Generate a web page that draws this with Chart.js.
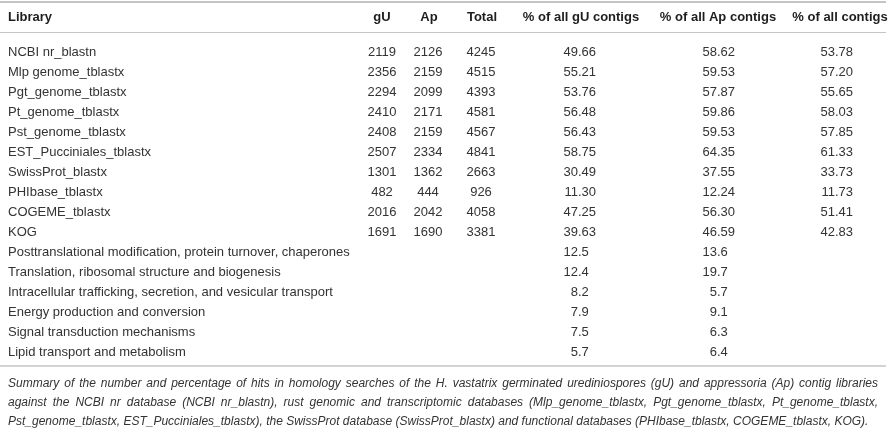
<!DOCTYPE html>
<html>
<head>
<meta charset="utf-8">
<script src="https://cdn.jsdelivr.net/npm/chart.js@4.4.0/dist/chart.umd.min.js"></script>
<style>
  html, body { margin: 0; padding: 0; background: #fff; }
  #wrap { width: 890px; height: 431px; }
</style>
</head>
<body>
<div id="wrap"><canvas id="tabla"></canvas></div>
<script>
// datos de la tabla
const headers = ['Library', 'gU', 'Ap', 'Total', '% of all gU contigs', '% of all Ap contigs', '% of all contigs'];
const libraries = ['NCBI nr_blastn', 'Mlp genome_tblastx', 'Pgt_genome_tblastx', 'Pt_genome_tblastx', 'Pst_genome_tblastx',
  'EST_Pucciniales_tblastx', 'SwissProt_blastx', 'PHIbase_tblastx', 'COGEME_tblastx', 'KOG'];
const gU = [2119, 2356, 2294, 2410, 2408, 2507, 1301, 482, 2016, 1691];
const ap = [2126, 2159, 2099, 2171, 2159, 2334, 1362, 444, 2042, 1690];
const total = [4245, 4515, 4393, 4581, 4567, 4841, 2663, 926, 4058, 3381];
const pctGU = [49.66, 55.21, 53.76, 56.48, 56.43, 58.75, 30.49, 11.30, 47.25, 39.63];
const pctAp = [58.62, 59.53, 57.87, 59.86, 59.53, 64.35, 37.55, 12.24, 56.30, 46.59];
const pctAll = [53.78, 57.20, 55.65, 58.03, 57.85, 61.33, 33.73, 11.73, 51.41, 42.83];
const kogClasses = ['Posttranslational modification, protein turnover, chaperones', 'Translation, ribosomal structure and biogenesis',
  'Intracellular trafficking, secretion, and vesicular transport', 'Energy production and conversion',
  'Signal transduction mechanisms', 'Lipid transport and metabolism'];
const kogGU = [12.5, 12.4, 8.2, 7.9, 7.5, 5.7];
const kogAp = [13.6, 19.7, 5.7, 9.1, 6.3, 6.4];
const caption = [
  'Summary of the number and percentage of hits in homology searches of the H. vastatrix germinated urediniospores (gU) and appressoria (Ap) contig libraries',
  'against the NCBI nr database (NCBI nr_blastn), rust genomic and transcriptomic databases (Mlp_genome_tblastx, Pgt_genome_tblastx, Pt_genome_tblastx,',
  'Pst_genome_tblastx, EST_Pucciniales_tblastx), the SwissProt database (SwissProt_blastx) and functional databases (PHIbase_tblastx, COGEME_tblastx, KOG).'
];

const rowLabels = libraries.concat(kogClasses);

// posiciones de columnas (en unidades del eje x = px)
const colX = [8, 382, 428, 481, 578, 717, 835];
const headX = [8, 382, 429, 482, 581, 718, 840];
const FONT = '"Liberation Sans", Arial, sans-serif';

function columna(textos, col, align) {
  return {
    data: textos.map((t, i) => ({ x: colX[col], y: i })),
    textos: textos,
    align: align,
    pointRadius: 0
  };
}

const tablaPlugin = {
  id: 'tabla',
  beforeDraw(chart) {
    const ctx = chart.ctx;
    ctx.save();
    ctx.fillStyle = '#fff';
    ctx.fillRect(0, 0, chart.width, chart.height);
    // lineas
    ctx.strokeStyle = '#c4c4c4';
    ctx.lineWidth = 2;
    ctx.beginPath(); ctx.moveTo(0, 2); ctx.lineTo(886, 2); ctx.stroke();
    ctx.lineWidth = 1;
    ctx.beginPath(); ctx.moveTo(0, 32.5); ctx.lineTo(886, 32.5); ctx.stroke();
    ctx.lineWidth = 1.5;
    ctx.beginPath(); ctx.moveTo(0, 366); ctx.lineTo(886, 366); ctx.stroke();
    // encabezado
    const xs = chart.scales.x;
    ctx.fillStyle = '#1e1e1e';
    ctx.font = 'bold 13px ' + FONT;
    ctx.textBaseline = 'middle';
    headers.forEach((h, i) => {
      ctx.textAlign = i === 0 ? 'left' : 'center';
      ctx.fillText(h, xs.getPixelForValue(headX[i]), 17);
    });
    ctx.restore();
  },
  afterDatasetsDraw(chart) {
    const ctx = chart.ctx;
    ctx.save();
    ctx.fillStyle = '#333';
    ctx.font = '13px ' + FONT;
    ctx.textBaseline = 'middle';
    chart.data.datasets.forEach((ds, d) => {
      const meta = chart.getDatasetMeta(d);
      meta.data.forEach((el, i) => {
        const t = ds.textos[i];
        if (ds.align === 'decimal') {
          // alineado por el punto decimal
          const ent = t.slice(0, t.indexOf('.'));
          ctx.textAlign = 'left';
          ctx.fillText(t, el.x - ctx.measureText(ent).width, el.y);
        } else {
          ctx.textAlign = ds.align;
          ctx.fillText(t, el.x, el.y);
        }
      });
    });
    ctx.restore();
  },
  afterDraw(chart) {
    const ctx = chart.ctx;
    ctx.save();
    ctx.fillStyle = '#333';
    ctx.font = 'italic 12px ' + FONT;
    ctx.textBaseline = 'middle';
    ctx.textAlign = 'left';
    const ys = [384, 403, 422];
    caption.forEach((linea, n) => {
      if (n === caption.length - 1) {
        ctx.fillText(linea, 8, ys[n]);
        return;
      }
      // texto justificado
      const palabras = linea.split(' ');
      const anchos = palabras.map(p => ctx.measureText(p).width);
      const suma = anchos.reduce((a, b) => a + b, 0);
      const hueco = (878 - 8 - suma) / (palabras.length - 1);
      let x = 8;
      palabras.forEach((p, i) => {
        ctx.fillText(p, x, ys[n]);
        x += anchos[i] + hueco;
      });
    });
    ctx.restore();
  }
};

new Chart(document.getElementById('tabla'), {
  type: 'scatter',
  data: {
    datasets: [
      columna(rowLabels, 0, 'left'),
      columna(gU.map(String), 1, 'center'),
      columna(ap.map(String), 2, 'center'),
      columna(total.map(String), 3, 'center'),
      columna(pctGU.map(v => v.toFixed(2)).concat(kogGU.map(v => v.toFixed(1))), 4, 'decimal'),
      columna(pctAp.map(v => v.toFixed(2)).concat(kogAp.map(v => v.toFixed(1))), 5, 'decimal'),
      columna(pctAll.map(v => v.toFixed(2)), 6, 'decimal')
    ]
  },
  options: {
    responsive: true,
    maintainAspectRatio: false,
    animation: false,
    layout: { padding: { top: 42, bottom: 69, left: 0, right: 0 } },
    scales: {
      x: { type: 'linear', min: 0, max: 890, display: false },
      y: { type: 'linear', min: -0.5, max: 15.5, reverse: true, display: false }
    },
    plugins: {
      legend: { display: false },
      tooltip: { enabled: false }
    }
  },
  plugins: [tablaPlugin]
});
</script>
</body>
</html>
